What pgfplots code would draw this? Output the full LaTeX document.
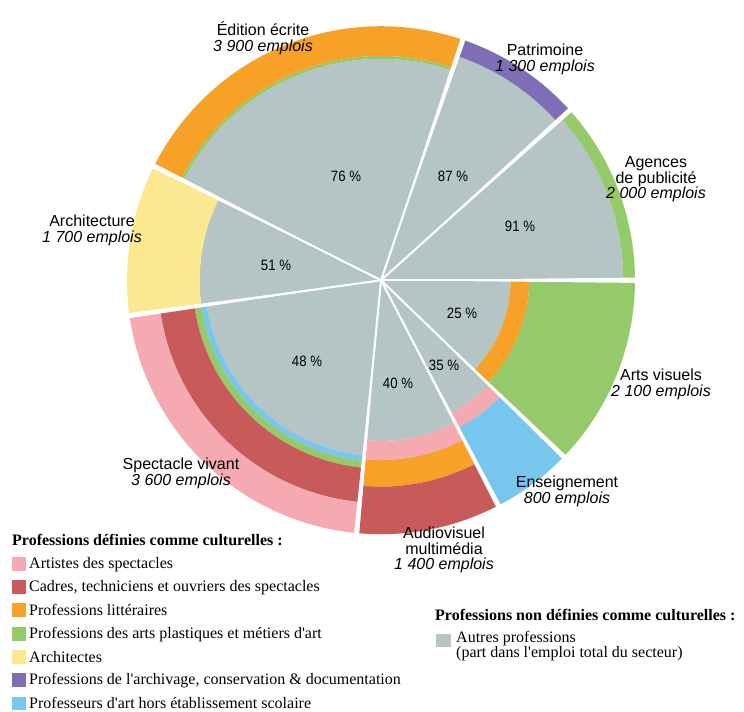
\documentclass[border=0pt]{standalone}
\usepackage{pgfplots}
\pgfplotsset{compat=1.18}
\usepackage{fontspec}
\setmainfont{Liberation Serif}
\setsansfont{Liberation Sans}
\usepackage{graphicx}

\definecolor{cgrey}{HTML}{B5C4C4}
\definecolor{corange}{HTML}{F7A128}
\definecolor{cgreen}{HTML}{95CA6A}
\definecolor{cpink}{HTML}{F5AAB2}
\definecolor{cred}{HTML}{C95A5A}
\definecolor{cyellow}{HTML}{FBE88F}
\definecolor{cpurple}{HTML}{7F6DB5}
\definecolor{cblue}{HTML}{76C6EE}

\def\cx{381}\def\cy{273}\def\R{254}\def\gap{0.6}

% annular sector: start angle, end angle, inner cumulative %, outer cumulative %, colour
\newcommand{\ring}[5]{%
  \pgfmathsetmacro\rA{\R*sqrt(#3/100)}%
  \pgfmathsetmacro\rB{\R*sqrt(#4/100)}%
  \pgfmathsetmacro\aA{#1+\gap}%
  \pgfmathsetmacro\aB{#2-\gap}%
  \edef\next{\noexpand\fill[#5,shift={(axis cs:\cx,\cy)}] (\aA:\rB pt) arc[start angle=\aA,end angle=\aB,radius=\rB pt] -- (\aB:\rA pt) arc[start angle=\aB,end angle=\aA,radius=\rA pt] -- cycle;}%
  \next}
% inner wedge: start angle, end angle, outer cumulative %, colour
\newcommand{\wedgepart}[4]{%
  \pgfmathsetmacro\rB{\R*sqrt(#3/100)}%
  \pgfmathsetmacro\aA{#1+\gap}%
  \pgfmathsetmacro\aB{#2-\gap}%
  \edef\next{\noexpand\fill[#4,shift={(axis cs:\cx,\cy)}] (0pt,0pt) -- (\aA:\rB pt) arc[start angle=\aA,end angle=\aB,radius=\rB pt] -- cycle;}%
  \next}
\newcommand{\sep}[1]{%
  \pgfmathsetmacro\rB{\R+4}%
  \edef\next{\noexpand\draw[white,line width=2pt,shift={(axis cs:\cx,\cy)}] (0pt,0pt) -- (#1:\rB pt);}%
  \next}

\newcommand{\lab}{\fontsize{16}{15.5}\selectfont\sffamily}
\newcommand{\pct}{\fontsize{15}{15}\selectfont\sffamily}
\newcommand{\leg}{\fontsize{16}{15}\selectfont\rmfamily}
\newcommand{\q}{\textquotesingle}

\begin{document}
\begin{tikzpicture}
\begin{axis}[
  x=1pt, y=1pt, y dir=reverse,
  xmin=0, xmax=744, ymin=0, ymax=704,
  hide axis, clip=false, scale only axis,
]
\path (axis cs:0,0) rectangle (axis cs:744,704);
% Agences de publicite
\wedgepart{0}{42}{91}{cgrey}
\ring{0}{42}{91}{100}{cgreen}
% Patrimoine
\wedgepart{42}{71.2}{87}{cgrey}
\ring{42}{71.2}{87}{100}{cpurple}
% Edition ecrite
\wedgepart{71.2}{153.3}{76}{cgrey}
\ring{71.2}{153.3}{76}{78}{cgreen}
\ring{71.2}{153.3}{78}{100}{corange}
% Architecture
\wedgepart{153.3}{188}{51}{cgrey}
\ring{153.3}{188}{51}{100}{cyellow}
% Spectacle vivant
\wedgepart{188}{264.5}{48}{cgrey}
\ring{188}{264.5}{48}{51}{cblue}
\ring{188}{264.5}{51}{55}{cgreen}
\ring{188}{264.5}{55}{77}{cred}
\ring{188}{264.5}{77}{100}{cpink}
% Audiovisuel multimedia
\wedgepart{264.5}{297.5}{40}{cgrey}
\ring{264.5}{297.5}{40}{50}{cpink}
\ring{264.5}{297.5}{50}{66}{corange}
\ring{264.5}{297.5}{66}{100}{cred}
% Enseignement
\wedgepart{297.5}{316}{35}{cgrey}
\ring{297.5}{316}{35}{43}{cpink}
\ring{297.5}{316}{43}{100}{cblue}
% Arts visuels
\wedgepart{316}{360}{26}{cgrey}
\ring{316}{360}{26}{34}{corange}
\ring{316}{360}{34}{100}{cgreen}
% separators
\sep{0}\sep{42}\sep{71.2}\sep{153.3}\sep{188}\sep{264.5}\sep{297.5}\sep{316}

% sector labels
\node[align=center,font=\lab] at (axis cs:263,31) {Édition écrite\\\textit{3 900 emplois}};
\node[align=center,font=\lab] at (axis cs:545,52) {Patrimoine\\\textit{1 300 emplois}};
\node[align=center,font=\lab] at (axis cs:656,172) {Agences\\de publicité\\\textit{2 000 emplois}};
\node[align=center,font=\lab] at (axis cs:661,377) {Arts visuels\\\textit{2 100 emplois}};
\node[align=center,font=\lab] at (axis cs:567,484) {Enseignement\\\textit{800 emplois}};
\node[align=center,font=\lab] at (axis cs:444,543) {Audiovisuel\\multimédia\\\textit{1 400 emplois}};
\node[align=center,font=\lab] at (axis cs:181,466) {Spectacle vivant\\\textit{3 600 emplois}};
\node[align=center,font=\lab] at (axis cs:92,223) {Architecture\\\textit{1 700 emplois}};

% percentage labels
\node[font=\pct] at (axis cs:346,169) {\scalebox{0.88}[1]{76 \%}};
\node[font=\pct] at (axis cs:453,169) {\scalebox{0.88}[1]{87 \%}};
\node[font=\pct] at (axis cs:520,219) {\scalebox{0.88}[1]{91 \%}};
\node[font=\pct] at (axis cs:462,306) {\scalebox{0.88}[1]{25 \%}};
\node[font=\pct] at (axis cs:444,358) {\scalebox{0.88}[1]{35 \%}};
\node[font=\pct] at (axis cs:398,376) {\scalebox{0.88}[1]{40 \%}};
\node[font=\pct] at (axis cs:307,354) {\scalebox{0.88}[1]{48 \%}};
\node[font=\pct] at (axis cs:276,258) {\scalebox{0.88}[1]{51 \%}};

% legend left
\node[anchor=west,font=\leg\bfseries,inner sep=0pt] at (axis cs:12,533) {Professions définies comme culturelles :};
\fill[cpink]   (axis cs:12,550) rectangle (axis cs:26,564);
\fill[cred]    (axis cs:12,573) rectangle (axis cs:26,587);
\fill[corange] (axis cs:12,596) rectangle (axis cs:26,610);
\fill[cgreen]  (axis cs:12,620) rectangle (axis cs:26,634);
\fill[cyellow] (axis cs:12,643) rectangle (axis cs:26,657);
\fill[cpurple] (axis cs:12,666) rectangle (axis cs:26,680);
\fill[cblue]   (axis cs:12,690) rectangle (axis cs:26,703);
\node[anchor=west,font=\leg,inner sep=0pt] at (axis cs:29,557) {Artistes des spectacles};
\node[anchor=west,font=\leg,inner sep=0pt] at (axis cs:29,580) {Cadres, techniciens et ouvriers des spectacles};
\node[anchor=west,font=\leg,inner sep=0pt] at (axis cs:29,603) {Professions littéraires};
\node[anchor=west,font=\leg,inner sep=0pt] at (axis cs:29,627) {Professions des arts plastiques et métiers d\q art};
\node[anchor=west,font=\leg,inner sep=0pt] at (axis cs:29,650) {Architectes};
\node[anchor=west,font=\leg,inner sep=0pt] at (axis cs:29,673) {Professions de l\q archivage, conservation \& documentation};
\node[anchor=west,font=\leg,inner sep=0pt] at (axis cs:29,696) {Professeurs d\q art hors établissement scolaire};

% legend right
\node[anchor=west,font=\leg\bfseries,inner sep=0pt] at (axis cs:435,608) {Professions non définies comme culturelles :};
\fill[cgrey] (axis cs:436,627) rectangle (axis cs:451,640);
\node[anchor=north west,align=left,font=\leg,inner sep=0pt] at (axis cs:456,624) {Autres professions\\(part dans l\q emploi total du secteur)};
\end{axis}
\end{tikzpicture}
\end{document}
